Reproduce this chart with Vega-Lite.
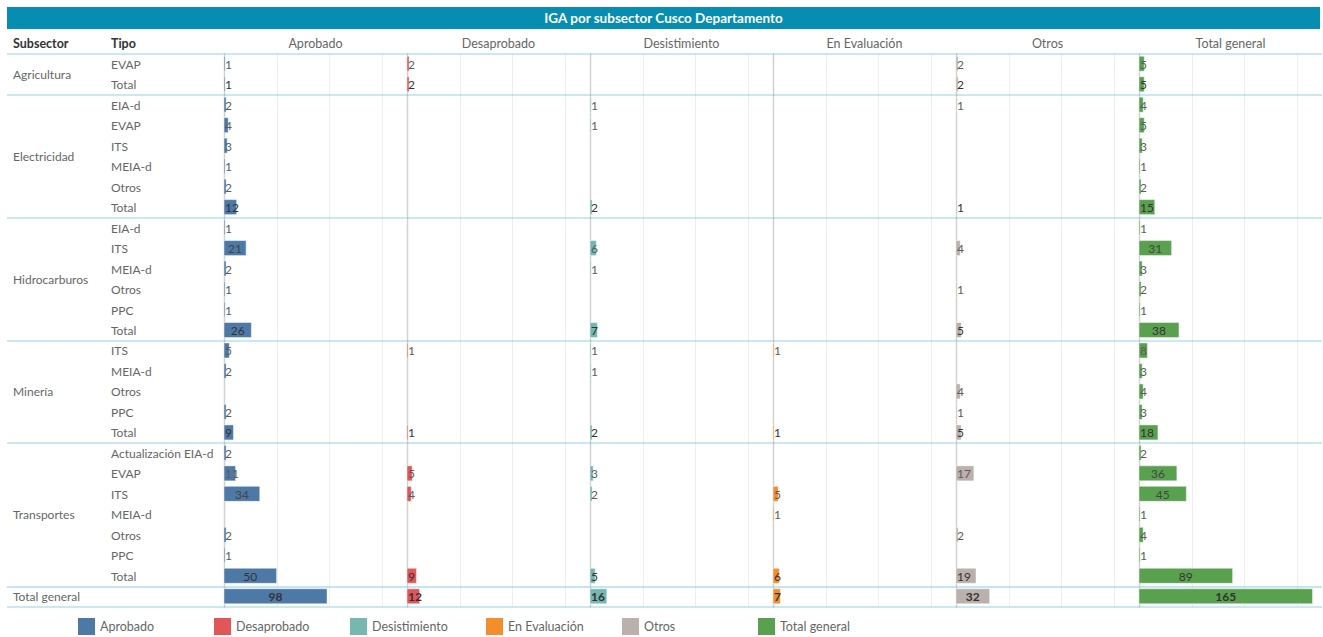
{
  "$schema": "https://vega.github.io/schema/vega-lite/v6.json",
  "padding": {"left": 7, "top": 7, "right": 0, "bottom": 0},
  "bounds": "flush",
  "spacing": 24.5,
  "datasets": {
    "t": [
      {"i": 0, "s": "Agricultura", "t": "EVAP", "k": "d", "Aprobado": 1, "Desaprobado": 2, "Otros": 2, "Total general": 5},
      {"i": 1, "s": "Agricultura", "t": "Total", "k": "t", "Aprobado": 1, "Desaprobado": 2, "Otros": 2, "Total general": 5},
      {"i": 2, "s": "Electricidad", "t": "EIA-d", "k": "d", "Aprobado": 2, "Desistimiento": 1, "Otros": 1, "Total general": 4},
      {"i": 3, "s": "Electricidad", "t": "EVAP", "k": "d", "Aprobado": 4, "Desistimiento": 1, "Total general": 5},
      {"i": 4, "s": "Electricidad", "t": "ITS", "k": "d", "Aprobado": 3, "Total general": 3},
      {"i": 5, "s": "Electricidad", "t": "MEIA-d", "k": "d", "Aprobado": 1, "Total general": 1},
      {"i": 6, "s": "Electricidad", "t": "Otros", "k": "d", "Aprobado": 2, "Total general": 2},
      {"i": 7, "s": "Electricidad", "t": "Total", "k": "t", "Aprobado": 12, "Desistimiento": 2, "Otros": 1, "Total general": 15},
      {"i": 8, "s": "Hidrocarburos", "t": "EIA-d", "k": "d", "Aprobado": 1, "Total general": 1},
      {"i": 9, "s": "Hidrocarburos", "t": "ITS", "k": "d", "Aprobado": 21, "Desistimiento": 6, "Otros": 4, "Total general": 31},
      {"i": 10, "s": "Hidrocarburos", "t": "MEIA-d", "k": "d", "Aprobado": 2, "Desistimiento": 1, "Total general": 3},
      {"i": 11, "s": "Hidrocarburos", "t": "Otros", "k": "d", "Aprobado": 1, "Otros": 1, "Total general": 2},
      {"i": 12, "s": "Hidrocarburos", "t": "PPC", "k": "d", "Aprobado": 1, "Total general": 1},
      {"i": 13, "s": "Hidrocarburos", "t": "Total", "k": "t", "Aprobado": 26, "Desistimiento": 7, "Otros": 5, "Total general": 38},
      {"i": 14, "s": "Minería", "t": "ITS", "k": "d", "Aprobado": 5, "Desaprobado": 1, "Desistimiento": 1, "En Evaluación": 1, "Total general": 8},
      {"i": 15, "s": "Minería", "t": "MEIA-d", "k": "d", "Aprobado": 2, "Desistimiento": 1, "Total general": 3},
      {"i": 16, "s": "Minería", "t": "Otros", "k": "d", "Otros": 4, "Total general": 4},
      {"i": 17, "s": "Minería", "t": "PPC", "k": "d", "Aprobado": 2, "Otros": 1, "Total general": 3},
      {"i": 18, "s": "Minería", "t": "Total", "k": "t", "Aprobado": 9, "Desaprobado": 1, "Desistimiento": 2, "En Evaluación": 1, "Otros": 5, "Total general": 18},
      {"i": 19, "s": "Transportes", "t": "Actualización EIA-d", "k": "d", "Aprobado": 2, "Total general": 2},
      {"i": 20, "s": "Transportes", "t": "EVAP", "k": "d", "Aprobado": 11, "Desaprobado": 5, "Desistimiento": 3, "Otros": 17, "Total general": 36},
      {"i": 21, "s": "Transportes", "t": "ITS", "k": "d", "Aprobado": 34, "Desaprobado": 4, "Desistimiento": 2, "En Evaluación": 5, "Total general": 45},
      {"i": 22, "s": "Transportes", "t": "MEIA-d", "k": "d", "En Evaluación": 1, "Total general": 1},
      {"i": 23, "s": "Transportes", "t": "Otros", "k": "d", "Aprobado": 2, "Otros": 2, "Total general": 4},
      {"i": 24, "s": "Transportes", "t": "PPC", "k": "d", "Aprobado": 1, "Total general": 1},
      {"i": 25, "s": "Transportes", "t": "Total", "k": "t", "Aprobado": 50, "Desaprobado": 9, "Desistimiento": 5, "En Evaluación": 6, "Otros": 19, "Total general": 89},
      {"i": 26, "s": "Total general", "t": "", "k": "g", "Aprobado": 98, "Desaprobado": 12, "Desistimiento": 16, "En Evaluación": 7, "Otros": 32, "Total general": 165}
    ]
  },
  "vconcat": [
    {
      "width": 1313,
      "height": 22,
      "view": {"fill": "#068db1", "stroke": null},
      "data": {"values": [{"titulo": "IGA por subsector Cusco Departamento"}]},
      "mark": {"type": "text", "color": "#ffffff", "fontWeight": "bold", "fontSize": 13.5, "baseline": "middle"},
      "encoding": {"text": {"field": "titulo"}}
    },
    {
      "bounds": "flush",
      "spacing": 0,
      "hconcat": [
        {
          "width": 98, "height": 553,
          "title": {"text": "Subsector", "anchor": "start", "dx": 6, "fontWeight": "bold", "color": "#333333"},
          "data": {"name": "t"},
          "transform": [{"aggregate": [{"op": "mean", "field": "i", "as": "im"}], "groupby": ["s"]}],
          "mark": {"type": "text", "align": "left", "dx": 6, "color": "#666666"},
          "encoding": {
            "x": {"datum": 0, "type": "quantitative", "scale": {"domain": [0, 1]}, "axis": null},
            "y": {"field": "im", "type": "quantitative", "scale": {"domain": [-0.5, 26.5], "reverse": true, "nice": false, "zero": false, "padding": 0},
                  "axis": {"orient": "left", "values": [-0.5, 1.5, 7.5, 13.5, 18.5, 25.5, 26.5], "title": null, "gridColor": {"condition": {"test": "datum.value === 25.5", "value": "#86cde0"}, "value": "#2aa5c6"}, "gridWidth": {"condition": {"test": "datum.value === 25.5", "value": 2}, "value": 1}, "gridDash": [1, 1]}},
            "text": {"field": "s"}
          }
        },
        {
          "width": 119, "height": 553,
          "title": {"text": "Tipo", "anchor": "start", "dx": 6, "fontWeight": "bold", "color": "#333333"},
          "data": {"name": "t"},
          "layer": [
            {
              "transform": [{"filter": "datum.k === 'd'"}],
              "mark": {"type": "text", "align": "left", "dx": 6, "color": "#666666"},
              "encoding": {
                "x": {"datum": 0, "type": "quantitative", "scale": {"domain": [0, 1]}, "axis": null},
                "y": {"field": "i", "type": "quantitative", "scale": {"domain": [-0.5, 26.5], "reverse": true, "nice": false, "zero": false, "padding": 0},
                      "axis": {"orient": "left", "values": [-0.5, 1.5, 7.5, 13.5, 18.5, 25.5, 26.5], "title": null, "gridColor": {"condition": {"test": "datum.value === 25.5", "value": "#86cde0"}, "value": "#2aa5c6"}, "gridWidth": {"condition": {"test": "datum.value === 25.5", "value": 2}, "value": 1}, "gridDash": [1, 1]}},
                "text": {"field": "t"}
              }
            },
            {
              "transform": [{"filter": "datum.k !== 'd'"}],
              "mark": {"type": "text", "align": "left", "dx": 6, "color": "#666666"},
              "encoding": {
                "x": {"datum": 0, "type": "quantitative", "axis": null},
                "y": {"field": "i", "type": "quantitative",
                      "axis": {"orient": "right", "values": [0.5, 6.5, 12.5, 17.5, 24.5], "title": null, "gridColor": "#dadada", "gridWidth": 1.5}},
                "text": {"field": "t"}
              }
            }
          ],
          "resolve": {"axis": {"y": "independent"}}
        },
        {
          "width": 183, "height": 553,
          "title": {"text": "Aprobado"},
          "data": {"name": "t"},
          "transform": [
            {"fold": ["Aprobado", "Desaprobado", "Desistimiento", "En Evaluación", "Otros", "Total general"], "as": ["e", "v"]},
            {"filter": "datum.e === 'Aprobado' && isValid(datum.v)"}
          ],
          "layer": [
            {
              "mark": {"type": "bar", "orient": "horizontal", "height": 15, "stroke": "#ffffff", "strokeOpacity": 0.45, "strokeWidth": 1},
              "encoding": {
                "x": {"field": "v", "type": "quantitative", "scale": {"domain": [0, 174], "nice": false},
                      "axis": {"values": [0, 50, 100, 150], "title": null, "gridColor": {"condition": {"test": "datum.value === 0", "value": "#d2d2d2"}, "value": "#eeeeee"}, "gridWidth": {"condition": {"test": "datum.value === 0", "value": 1.5}, "value": 1}}},
                "y": {"field": "i", "type": "quantitative", "scale": {"domain": [-0.5, 26.5], "reverse": true, "nice": false, "zero": false, "padding": 0},
                      "axis": {"orient": "left", "values": [-0.5, 1.5, 7.5, 13.5, 18.5, 25.5, 26.5], "title": null, "gridColor": {"condition": {"test": "datum.value === 25.5", "value": "#86cde0"}, "value": "#2aa5c6"}, "gridWidth": {"condition": {"test": "datum.value === 25.5", "value": 2}, "value": 1}, "gridDash": [1, 1]}},
                "color": {"field": "e", "type": "nominal", "title": null,
                          "scale": {"domain": ["Aprobado", "Desaprobado", "Desistimiento", "En Evaluación", "Otros", "Total general"], "range": ["#4e79a7", "#e15759", "#76b7b2", "#f28e2b", "#bab0ac", "#59a14f"]}}
              }
            },
            {
              "transform": [{"filter": "datum.v < 20"}],
              "mark": {"type": "text", "align": "left", "dx": 1, "fontWeight": {"expr": "datum.k === 'g' ? 'bold' : 'normal'"}},
              "encoding": {
                "x": {"datum": 0, "type": "quantitative", "scale": {"domain": [0, 174], "nice": false}, "axis": null},
                "y": {"field": "i", "type": "quantitative",
                      "axis": {"orient": "right", "values": [0.5, 6.5, 12.5, 17.5, 24.5], "title": null, "gridColor": "#dadada", "gridWidth": 1.5}},
                "text": {"field": "v", "type": "quantitative"},
                "color": {"condition": {"test": "datum.k === 'd'", "value": "#5c5c5c"}, "value": "#333333"}
              }
            },
            {
              "transform": [{"filter": "datum.v >= 20"}],
              "mark": {"type": "text", "align": "center", "fontWeight": {"expr": "datum.k === 'g' ? 'bold' : 'normal'"}},
              "encoding": {
                "x": {"field": "v", "type": "quantitative", "scale": {"domain": [0, 348], "nice": false}, "axis": null},
                "y": {"field": "i", "type": "quantitative", "axis": null},
                "text": {"field": "v", "type": "quantitative"},
                "color": {"condition": {"test": "datum.k === 'd'", "value": "#444444"}, "value": "#333333"}
              }
            }
          ],
          "resolve": {"axis": {"y": "independent"}, "scale": {"x": "independent"}}
        },
        {
          "width": 183, "height": 553,
          "title": {"text": "Desaprobado"},
          "data": {"name": "t"},
          "transform": [
            {"fold": ["Aprobado", "Desaprobado", "Desistimiento", "En Evaluación", "Otros", "Total general"], "as": ["e", "v"]},
            {"filter": "datum.e === 'Desaprobado' && isValid(datum.v)"}
          ],
          "layer": [
            {
              "mark": {"type": "bar", "orient": "horizontal", "height": 15, "stroke": "#ffffff", "strokeOpacity": 0.45, "strokeWidth": 1},
              "encoding": {
                "x": {"field": "v", "type": "quantitative", "scale": {"domain": [0, 174], "nice": false},
                      "axis": {"values": [0, 50, 100, 150], "title": null, "gridColor": {"condition": {"test": "datum.value === 0", "value": "#d2d2d2"}, "value": "#eeeeee"}, "gridWidth": {"condition": {"test": "datum.value === 0", "value": 1.5}, "value": 1}}},
                "y": {"field": "i", "type": "quantitative", "scale": {"domain": [-0.5, 26.5], "reverse": true, "nice": false, "zero": false, "padding": 0},
                      "axis": {"orient": "left", "values": [-0.5, 1.5, 7.5, 13.5, 18.5, 25.5, 26.5], "title": null, "gridColor": {"condition": {"test": "datum.value === 25.5", "value": "#86cde0"}, "value": "#2aa5c6"}, "gridWidth": {"condition": {"test": "datum.value === 25.5", "value": 2}, "value": 1}, "gridDash": [1, 1]}},
                "color": {"field": "e", "type": "nominal", "title": null,
                          "scale": {"domain": ["Aprobado", "Desaprobado", "Desistimiento", "En Evaluación", "Otros", "Total general"], "range": ["#4e79a7", "#e15759", "#76b7b2", "#f28e2b", "#bab0ac", "#59a14f"]}}
              }
            },
            {
              "transform": [{"filter": "datum.v < 20"}],
              "mark": {"type": "text", "align": "left", "dx": 1, "fontWeight": {"expr": "datum.k === 'g' ? 'bold' : 'normal'"}},
              "encoding": {
                "x": {"datum": 0, "type": "quantitative", "scale": {"domain": [0, 174], "nice": false}, "axis": null},
                "y": {"field": "i", "type": "quantitative",
                      "axis": {"orient": "right", "values": [0.5, 6.5, 12.5, 17.5, 24.5], "title": null, "gridColor": "#dadada", "gridWidth": 1.5}},
                "text": {"field": "v", "type": "quantitative"},
                "color": {"condition": {"test": "datum.k === 'd'", "value": "#5c5c5c"}, "value": "#333333"}
              }
            },
            {
              "transform": [{"filter": "datum.v >= 20"}],
              "mark": {"type": "text", "align": "center", "fontWeight": {"expr": "datum.k === 'g' ? 'bold' : 'normal'"}},
              "encoding": {
                "x": {"field": "v", "type": "quantitative", "scale": {"domain": [0, 348], "nice": false}, "axis": null},
                "y": {"field": "i", "type": "quantitative", "axis": null},
                "text": {"field": "v", "type": "quantitative"},
                "color": {"condition": {"test": "datum.k === 'd'", "value": "#444444"}, "value": "#333333"}
              }
            }
          ],
          "resolve": {"axis": {"y": "independent"}, "scale": {"x": "independent"}}
        },
        {
          "width": 183, "height": 553,
          "title": {"text": "Desistimiento"},
          "data": {"name": "t"},
          "transform": [
            {"fold": ["Aprobado", "Desaprobado", "Desistimiento", "En Evaluación", "Otros", "Total general"], "as": ["e", "v"]},
            {"filter": "datum.e === 'Desistimiento' && isValid(datum.v)"}
          ],
          "layer": [
            {
              "mark": {"type": "bar", "orient": "horizontal", "height": 15, "stroke": "#ffffff", "strokeOpacity": 0.45, "strokeWidth": 1},
              "encoding": {
                "x": {"field": "v", "type": "quantitative", "scale": {"domain": [0, 174], "nice": false},
                      "axis": {"values": [0, 50, 100, 150], "title": null, "gridColor": {"condition": {"test": "datum.value === 0", "value": "#d2d2d2"}, "value": "#eeeeee"}, "gridWidth": {"condition": {"test": "datum.value === 0", "value": 1.5}, "value": 1}}},
                "y": {"field": "i", "type": "quantitative", "scale": {"domain": [-0.5, 26.5], "reverse": true, "nice": false, "zero": false, "padding": 0},
                      "axis": {"orient": "left", "values": [-0.5, 1.5, 7.5, 13.5, 18.5, 25.5, 26.5], "title": null, "gridColor": {"condition": {"test": "datum.value === 25.5", "value": "#86cde0"}, "value": "#2aa5c6"}, "gridWidth": {"condition": {"test": "datum.value === 25.5", "value": 2}, "value": 1}, "gridDash": [1, 1]}},
                "color": {"field": "e", "type": "nominal", "title": null,
                          "scale": {"domain": ["Aprobado", "Desaprobado", "Desistimiento", "En Evaluación", "Otros", "Total general"], "range": ["#4e79a7", "#e15759", "#76b7b2", "#f28e2b", "#bab0ac", "#59a14f"]}}
              }
            },
            {
              "transform": [{"filter": "datum.v < 20"}],
              "mark": {"type": "text", "align": "left", "dx": 1, "fontWeight": {"expr": "datum.k === 'g' ? 'bold' : 'normal'"}},
              "encoding": {
                "x": {"datum": 0, "type": "quantitative", "scale": {"domain": [0, 174], "nice": false}, "axis": null},
                "y": {"field": "i", "type": "quantitative",
                      "axis": {"orient": "right", "values": [0.5, 6.5, 12.5, 17.5, 24.5], "title": null, "gridColor": "#dadada", "gridWidth": 1.5}},
                "text": {"field": "v", "type": "quantitative"},
                "color": {"condition": {"test": "datum.k === 'd'", "value": "#5c5c5c"}, "value": "#333333"}
              }
            },
            {
              "transform": [{"filter": "datum.v >= 20"}],
              "mark": {"type": "text", "align": "center", "fontWeight": {"expr": "datum.k === 'g' ? 'bold' : 'normal'"}},
              "encoding": {
                "x": {"field": "v", "type": "quantitative", "scale": {"domain": [0, 348], "nice": false}, "axis": null},
                "y": {"field": "i", "type": "quantitative", "axis": null},
                "text": {"field": "v", "type": "quantitative"},
                "color": {"condition": {"test": "datum.k === 'd'", "value": "#444444"}, "value": "#333333"}
              }
            }
          ],
          "resolve": {"axis": {"y": "independent"}, "scale": {"x": "independent"}}
        },
        {
          "width": 183, "height": 553,
          "title": {"text": "En Evaluación"},
          "data": {"name": "t"},
          "transform": [
            {"fold": ["Aprobado", "Desaprobado", "Desistimiento", "En Evaluación", "Otros", "Total general"], "as": ["e", "v"]},
            {"filter": "datum.e === 'En Evaluación' && isValid(datum.v)"}
          ],
          "layer": [
            {
              "mark": {"type": "bar", "orient": "horizontal", "height": 15, "stroke": "#ffffff", "strokeOpacity": 0.45, "strokeWidth": 1},
              "encoding": {
                "x": {"field": "v", "type": "quantitative", "scale": {"domain": [0, 174], "nice": false},
                      "axis": {"values": [0, 50, 100, 150], "title": null, "gridColor": {"condition": {"test": "datum.value === 0", "value": "#d2d2d2"}, "value": "#eeeeee"}, "gridWidth": {"condition": {"test": "datum.value === 0", "value": 1.5}, "value": 1}}},
                "y": {"field": "i", "type": "quantitative", "scale": {"domain": [-0.5, 26.5], "reverse": true, "nice": false, "zero": false, "padding": 0},
                      "axis": {"orient": "left", "values": [-0.5, 1.5, 7.5, 13.5, 18.5, 25.5, 26.5], "title": null, "gridColor": {"condition": {"test": "datum.value === 25.5", "value": "#86cde0"}, "value": "#2aa5c6"}, "gridWidth": {"condition": {"test": "datum.value === 25.5", "value": 2}, "value": 1}, "gridDash": [1, 1]}},
                "color": {"field": "e", "type": "nominal", "title": null,
                          "scale": {"domain": ["Aprobado", "Desaprobado", "Desistimiento", "En Evaluación", "Otros", "Total general"], "range": ["#4e79a7", "#e15759", "#76b7b2", "#f28e2b", "#bab0ac", "#59a14f"]}}
              }
            },
            {
              "transform": [{"filter": "datum.v < 20"}],
              "mark": {"type": "text", "align": "left", "dx": 1, "fontWeight": {"expr": "datum.k === 'g' ? 'bold' : 'normal'"}},
              "encoding": {
                "x": {"datum": 0, "type": "quantitative", "scale": {"domain": [0, 174], "nice": false}, "axis": null},
                "y": {"field": "i", "type": "quantitative",
                      "axis": {"orient": "right", "values": [0.5, 6.5, 12.5, 17.5, 24.5], "title": null, "gridColor": "#dadada", "gridWidth": 1.5}},
                "text": {"field": "v", "type": "quantitative"},
                "color": {"condition": {"test": "datum.k === 'd'", "value": "#5c5c5c"}, "value": "#333333"}
              }
            },
            {
              "transform": [{"filter": "datum.v >= 20"}],
              "mark": {"type": "text", "align": "center", "fontWeight": {"expr": "datum.k === 'g' ? 'bold' : 'normal'"}},
              "encoding": {
                "x": {"field": "v", "type": "quantitative", "scale": {"domain": [0, 348], "nice": false}, "axis": null},
                "y": {"field": "i", "type": "quantitative", "axis": null},
                "text": {"field": "v", "type": "quantitative"},
                "color": {"condition": {"test": "datum.k === 'd'", "value": "#444444"}, "value": "#333333"}
              }
            }
          ],
          "resolve": {"axis": {"y": "independent"}, "scale": {"x": "independent"}}
        },
        {
          "width": 183, "height": 553,
          "title": {"text": "Otros"},
          "data": {"name": "t"},
          "transform": [
            {"fold": ["Aprobado", "Desaprobado", "Desistimiento", "En Evaluación", "Otros", "Total general"], "as": ["e", "v"]},
            {"filter": "datum.e === 'Otros' && isValid(datum.v)"}
          ],
          "layer": [
            {
              "mark": {"type": "bar", "orient": "horizontal", "height": 15, "stroke": "#ffffff", "strokeOpacity": 0.45, "strokeWidth": 1},
              "encoding": {
                "x": {"field": "v", "type": "quantitative", "scale": {"domain": [0, 174], "nice": false},
                      "axis": {"values": [0, 50, 100, 150], "title": null, "gridColor": {"condition": {"test": "datum.value === 0", "value": "#d2d2d2"}, "value": "#eeeeee"}, "gridWidth": {"condition": {"test": "datum.value === 0", "value": 1.5}, "value": 1}}},
                "y": {"field": "i", "type": "quantitative", "scale": {"domain": [-0.5, 26.5], "reverse": true, "nice": false, "zero": false, "padding": 0},
                      "axis": {"orient": "left", "values": [-0.5, 1.5, 7.5, 13.5, 18.5, 25.5, 26.5], "title": null, "gridColor": {"condition": {"test": "datum.value === 25.5", "value": "#86cde0"}, "value": "#2aa5c6"}, "gridWidth": {"condition": {"test": "datum.value === 25.5", "value": 2}, "value": 1}, "gridDash": [1, 1]}},
                "color": {"field": "e", "type": "nominal", "title": null,
                          "scale": {"domain": ["Aprobado", "Desaprobado", "Desistimiento", "En Evaluación", "Otros", "Total general"], "range": ["#4e79a7", "#e15759", "#76b7b2", "#f28e2b", "#bab0ac", "#59a14f"]}}
              }
            },
            {
              "transform": [{"filter": "datum.v < 20"}],
              "mark": {"type": "text", "align": "left", "dx": 1, "fontWeight": {"expr": "datum.k === 'g' ? 'bold' : 'normal'"}},
              "encoding": {
                "x": {"datum": 0, "type": "quantitative", "scale": {"domain": [0, 174], "nice": false}, "axis": null},
                "y": {"field": "i", "type": "quantitative",
                      "axis": {"orient": "right", "values": [0.5, 6.5, 12.5, 17.5, 24.5], "title": null, "gridColor": "#dadada", "gridWidth": 1.5}},
                "text": {"field": "v", "type": "quantitative"},
                "color": {"condition": {"test": "datum.k === 'd'", "value": "#5c5c5c"}, "value": "#333333"}
              }
            },
            {
              "transform": [{"filter": "datum.v >= 20"}],
              "mark": {"type": "text", "align": "center", "fontWeight": {"expr": "datum.k === 'g' ? 'bold' : 'normal'"}},
              "encoding": {
                "x": {"field": "v", "type": "quantitative", "scale": {"domain": [0, 348], "nice": false}, "axis": null},
                "y": {"field": "i", "type": "quantitative", "axis": null},
                "text": {"field": "v", "type": "quantitative"},
                "color": {"condition": {"test": "datum.k === 'd'", "value": "#444444"}, "value": "#333333"}
              }
            }
          ],
          "resolve": {"axis": {"y": "independent"}, "scale": {"x": "independent"}}
        },
        {
          "width": 183, "height": 553,
          "title": {"text": "Total general"},
          "data": {"name": "t"},
          "transform": [
            {"fold": ["Aprobado", "Desaprobado", "Desistimiento", "En Evaluación", "Otros", "Total general"], "as": ["e", "v"]},
            {"filter": "datum.e === 'Total general' && isValid(datum.v)"}
          ],
          "layer": [
            {
              "mark": {"type": "bar", "orient": "horizontal", "height": 15, "stroke": "#ffffff", "strokeOpacity": 0.45, "strokeWidth": 1},
              "encoding": {
                "x": {"field": "v", "type": "quantitative", "scale": {"domain": [0, 174], "nice": false},
                      "axis": {"values": [0, 50, 100, 150, 174], "title": null, "gridColor": {"condition": {"test": "datum.value === 0 || datum.value === 174", "value": "#d2d2d2"}, "value": "#eeeeee"}, "gridWidth": {"condition": {"test": "datum.value === 0", "value": 1.5}, "value": 1}}},
                "y": {"field": "i", "type": "quantitative", "scale": {"domain": [-0.5, 26.5], "reverse": true, "nice": false, "zero": false, "padding": 0},
                      "axis": {"orient": "left", "values": [-0.5, 1.5, 7.5, 13.5, 18.5, 25.5, 26.5], "title": null, "gridColor": {"condition": {"test": "datum.value === 25.5", "value": "#86cde0"}, "value": "#2aa5c6"}, "gridWidth": {"condition": {"test": "datum.value === 25.5", "value": 2}, "value": 1}, "gridDash": [1, 1]}},
                "color": {"field": "e", "type": "nominal", "title": null,
                          "scale": {"domain": ["Aprobado", "Desaprobado", "Desistimiento", "En Evaluación", "Otros", "Total general"], "range": ["#4e79a7", "#e15759", "#76b7b2", "#f28e2b", "#bab0ac", "#59a14f"]}}
              }
            },
            {
              "transform": [{"filter": "datum.v < 20"}],
              "mark": {"type": "text", "align": "left", "dx": 1, "fontWeight": {"expr": "datum.k === 'g' ? 'bold' : 'normal'"}},
              "encoding": {
                "x": {"datum": 0, "type": "quantitative", "scale": {"domain": [0, 174], "nice": false}, "axis": null},
                "y": {"field": "i", "type": "quantitative",
                      "axis": {"orient": "right", "values": [0.5, 6.5, 12.5, 17.5, 24.5], "title": null, "gridColor": "#dadada", "gridWidth": 1.5}},
                "text": {"field": "v", "type": "quantitative"},
                "color": {"condition": {"test": "datum.k === 'd'", "value": "#5c5c5c"}, "value": "#333333"}
              }
            },
            {
              "transform": [{"filter": "datum.v >= 20"}],
              "mark": {"type": "text", "align": "center", "fontWeight": {"expr": "datum.k === 'g' ? 'bold' : 'normal'"}},
              "encoding": {
                "x": {"field": "v", "type": "quantitative", "scale": {"domain": [0, 348], "nice": false}, "axis": null},
                "y": {"field": "i", "type": "quantitative", "axis": null},
                "text": {"field": "v", "type": "quantitative"},
                "color": {"condition": {"test": "datum.k === 'd'", "value": "#444444"}, "value": "#333333"}
              }
            }
          ],
          "resolve": {"axis": {"y": "independent"}, "scale": {"x": "independent"}}
        }
      ]
    }
  ],
  "config": {
    "font": "Lato",
    "view": {"stroke": null},
    "axis": {"labels": false, "ticks": false, "domain": false, "grid": true},
    "text": {"fontSize": 12, "baseline": "middle", "font": "Lato", "dy": 1},
    "title": {"font": "Lato", "fontSize": 12.5, "fontWeight": "normal", "color": "#666666", "anchor": "middle", "baseline": "alphabetic", "offset": 3},
    "legend": {
      "orient": "none", "legendX": 71, "legendY": 611, "direction": "horizontal", "columns": 6,
      "gridAlign": "all", "columnPadding": 38, "symbolType": "square", "symbolSize": 289,
      "symbolStrokeWidth": 0, "symbolOpacity": 1, "labelFont": "Lato", "labelFontSize": 12.5, "labelColor": "#666666", "labelOffset": 5, "padding": 0
    }
  }
}
